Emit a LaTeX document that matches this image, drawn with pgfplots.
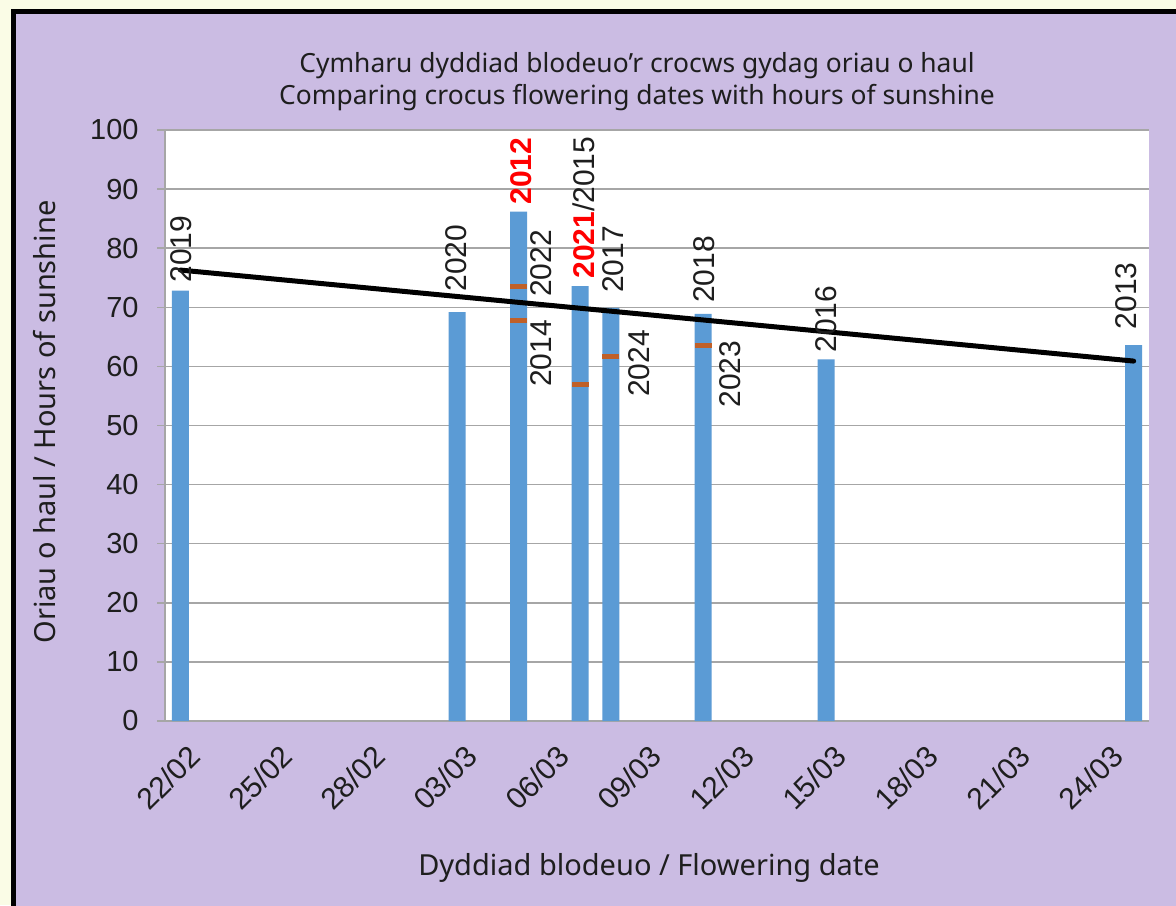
\documentclass[border=0pt]{standalone}
\usepackage{pgfplots}
\pgfplotsset{compat=1.18}
\usepackage{fontspec}
\setmainfont{Noto Sans}
\newfontfamily\numfont{Liberation Sans}
\definecolor{bgy}{RGB}{250,252,230}
\definecolor{purp}{RGB}{203,188,227}
\definecolor{barblue}{RGB}{91,155,213}
\definecolor{mk}{RGB}{192,96,40}
\definecolor{gridc}{RGB}{166,166,166}
\definecolor{txt}{RGB}{30,30,30}
\begin{document}
\begin{tikzpicture}[x=0.5pt,y=0.5pt]
\path[use as bounding box] (0,0) rectangle (1176,905);
\fill[bgy] (0,0) rectangle (1176,905);
\begin{scope}
\clip (0,0) rectangle (1176,905);
\filldraw[fill=purp, draw=black, line width=2.5pt] (13.5,-20) rectangle (1200,893.5);
\end{scope}
\node[font=\fontsize{13.2}{15}\selectfont, text=txt] at (637,839) {Cymharu dyddiad blodeuo’r crocws gydag oriau o haul};
\node[font=\fontsize{13.2}{15}\selectfont, text=txt] at (637,807) {Comparing crocus flowering dates with hours of sunshine};
\node[font=\fontsize{14.5}{16}\selectfont, text=txt, rotate=90] at (45,483) {Oriau o haul / Hours of sunshine};
\node[font=\fontsize{14.5}{16}\selectfont, text=txt] at (649,37) {Dyddiad blodeuo / Flowering date};
\begin{axis}[
  at={(82.5pt,92pt)}, anchor=south west, scale only axis,
  width=492pt, height=295.5pt,
  xmin=-0.5, xmax=31.5, ymin=0, ymax=100,
  clip=false,
  axis background/.style={fill=white},
  axis x line*=bottom, axis y line*=left,
  axis line style={gridc, line width=0.75pt},
  ymajorgrids, grid style={gridc, line width=0.75pt},
  ytick={0,10,...,100},
  ytick align=outside, ytick pos=left,
  major tick length=4pt,
  ytick style={gridc, line width=0.75pt},
  xtick={0,3,...,30},
  xticklabels={22/02,25/02,28/02,03/03,06/03,09/03,12/03,15/03,18/03,21/03,24/03},
  xtick style={draw=none},
  /pgf/number format/assume math mode=true,
  ticklabel style={font=\numfont\fontsize{14.5}{16}\selectfont, text=txt},
  xticklabel style={font=\numfont\fontsize{15}{17}\selectfont, rotate=45, anchor=north east, inner sep=0pt, xshift=-5.4pt, yshift=-10.1pt},
  yticklabel style={anchor=east, inner sep=0pt, xshift=-9pt},
]
\addplot[ybar, bar width=8.5pt, fill=barblue, draw=none] coordinates {
  (0,72.8) (9,69.2) (11,86.2) (13,73.6) (14,69.9) (17,68.9) (21,61.2) (31,63.6)};
\addplot[black, line width=2.5pt, line cap=round] coordinates {(0,76.3) (31,60.9)};
\addplot[only marks, mark=-, mark size=4.25pt, color=mk, mark options={line width=2.5pt}] coordinates {
  (11,73.6) (11,67.7) (13,57.0) (14,61.6) (17,63.6)};
\begin{scope}[every node/.style={rotate=90, anchor=west, inner sep=0pt, font=\numfont\fontsize{15}{17}\selectfont, text=txt}]
\node at (axis cs:0.04,74.1) {2019};
\node at (axis cs:8.96,72.6) {2020};
\node[text=red, font=\numfont\bfseries\fontsize{15}{17}\selectfont] at (axis cs:11.07,87.3) {2012};
\node at (axis cs:11.72,71.7) {2022};
\node at (axis cs:11.72,56.5) {2014};
\node at (axis cs:13.12,74.8) {{\color{red}\bfseries 2021}/2015};
\node at (axis cs:14.06,72.4) {2017};
\node at (axis cs:14.91,54.8) {2024};
\node at (axis cs:17.05,70.7) {2018};
\node at (axis cs:17.87,53.0) {2023};
\node at (axis cs:20.99,62.3) {2016};
\node at (axis cs:30.75,66.2) {2013};
\end{scope}
\end{axis}
\end{tikzpicture}
\end{document}
